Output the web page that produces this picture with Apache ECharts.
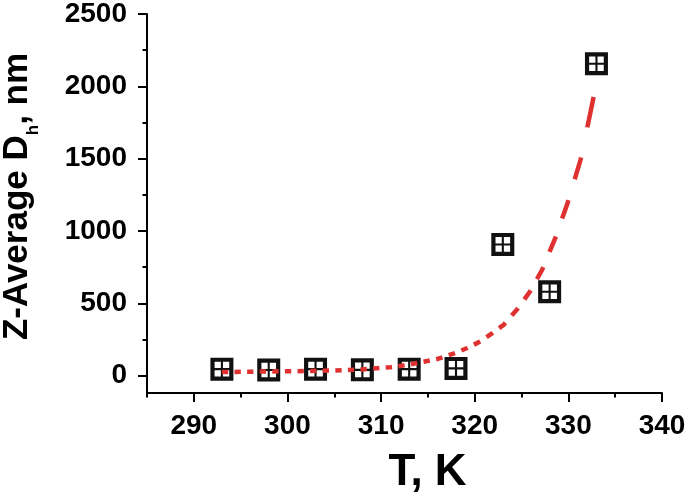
<!DOCTYPE html>
<html>
<head>
<meta charset="utf-8">
<script src="https://cdn.jsdelivr.net/npm/echarts@6/dist/echarts.min.js"></script>
<style>
  html, body { margin: 0; padding: 0; background: #fff; }
  #chart { width: 685px; height: 495px; }
</style>
</head>
<body>
<div id="chart"></div>
<script>
// measured points (T in K, Z-average Dh in nm)
const tempK = [293, 298, 303, 308, 313, 318, 323, 328, 333]
const sizeNm = [45, 39, 45, 40, 45, 50, 907, 580, 2156]

// fit curve
const fitT = [293, 297, 301, 305, 308, 311, 313, 316, 318, 319.2, 320.6, 321.8, 323.1, 324.5, 325.9, 327.2, 328.6, 329.9, 331.3, 332.3, 333]
const fitD = [25, 28, 31, 36, 43, 58, 76, 115, 158, 191, 237, 290, 352, 456, 582, 732, 951, 1190, 1492, 1802, 2022]

// tick labels
const xMajor = [290, 300, 310, 320, 330, 340]
const xMinor = [285, 295, 305, 315, 325, 335]
const yMajor = [0, 500, 1000, 1500, 2000, 2500]
const yMinor = [250, 750, 1250, 1750, 2250]

const FONT = 'Liberation Sans'
// black box with four white windows
const BOX = 'path://M0 0H22V22H0Z M4 4V10H10V4Z M12 4V10H18V4Z M4 12V18H10V12Z M12 12V18H18V12Z'

// the fit line is dashed in x: every other slice of the curve is drawn
function renderFit(params, api) {
  if (params.dataIndex !== 0) return
  const pts = fitT.map((t, i) => api.coord([t, fitD[i]]))
  const period = 12.6
  const dash = 6.3
  const yAt = x => {
    for (let i = 1; i < pts.length; i++) {
      if (x <= pts[i][0]) {
        const a = pts[i - 1]
        const b = pts[i]
        return a[1] + (b[1] - a[1]) * (x - a[0]) / (b[0] - a[0])
      }
    }
    return pts[pts.length - 1][1]
  }
  const x0 = pts[0][0]
  const xEnd = pts[pts.length - 1][0]
  const children = []
  for (let s = x0; s < xEnd; s += period) {
    const e = Math.min(s + dash, xEnd)
    const seg = [[s, yAt(s)]]
    pts.forEach(p => {
      if (p[0] > s && p[0] < e) seg.push(p)
    })
    seg.push([e, yAt(e)])
    children.push({
      type: 'polyline',
      shape: { points: seg },
      style: { stroke: '#e03131', lineWidth: 4.5, fill: null, lineCap: 'butt' }
    })
  }
  return { type: 'group', children }
}

const chart = echarts.init(document.getElementById('chart'))
chart.setOption({
  animation: false,
  grid: { left: 147, right: 23, top: 14, bottom: 102, outerBoundsMode: 'none' },
  xAxis: [{
    type: 'value',
    min: 285,
    max: 340,
    position: 'bottom',
    splitLine: { show: false },
    axisLine: { onZero: false, lineStyle: { color: '#000', width: 2 } },
    axisTick: { customValues: xMajor, length: 9, lineStyle: { color: '#000', width: 2 } },
    axisLabel: { customValues: xMajor, margin: 19, color: '#000', fontSize: 28, fontWeight: 'bold', fontFamily: FONT, formatter: v => String(v) },
    name: 'T, K',
    nameLocation: 'middle',
    nameGap: 58,
    nameTextStyle: { color: '#000', fontSize: 44, fontWeight: 'bold', fontFamily: FONT, padding: [0, 0, 0, 46] }
  }, {
    type: 'value',
    min: 285,
    max: 340,
    position: 'bottom',
    splitLine: { show: false },
    axisLine: { show: false, onZero: false },
    axisTick: { customValues: xMinor, length: 4.5, lineStyle: { color: '#000', width: 2 } },
    axisLabel: { show: false }
  }],
  yAxis: [{
    type: 'value',
    min: -120,
    max: 2500,
    position: 'left',
    splitLine: { show: false },
    axisLine: { show: true, onZero: false, lineStyle: { color: '#000', width: 2 } },
    axisTick: { show: true, customValues: yMajor, length: 9, lineStyle: { color: '#000', width: 2 } },
    axisLabel: { customValues: yMajor, margin: 20, color: '#000', fontSize: 28, fontWeight: 'bold', fontFamily: FONT, formatter: v => String(v) },
    name: '{t|Z-Average D}{s|h}{t|, nm}',
    nameLocation: 'middle',
    nameRotate: 90,
    nameGap: 105,
    nameTextStyle: {
      color: '#000',
      padding: [0, 0, 0, 14],
      rich: {
        t: { fontSize: 35, lineHeight: 42, verticalAlign: 'top', fontWeight: 'bold', fontFamily: FONT, color: '#000' },
        s: { fontSize: 17, lineHeight: 20, verticalAlign: 'bottom', fontWeight: 'bold', fontFamily: FONT, color: '#000' }
      }
    }
  }, {
    type: 'value',
    min: -120,
    max: 2500,
    position: 'left',
    splitLine: { show: false },
    axisLine: { show: false, onZero: false },
    axisTick: { show: true, customValues: yMinor, length: 4.5, lineStyle: { color: '#000', width: 2 } },
    axisLabel: { show: false }
  }],
  series: [{
    name: 'Dh',
    type: 'scatter',
    xAxisIndex: 0,
    yAxisIndex: 0,
    symbol: BOX,
    symbolSize: 23,
    itemStyle: { color: '#111', opacity: 1 },
    z: 2,
    data: tempK.map((t, i) => [t, sizeNm[i]])
  }, {
    name: 'fit',
    type: 'custom',
    xAxisIndex: 0,
    yAxisIndex: 0,
    renderItem: renderFit,
    silent: true,
    clip: false,
    z: 3,
    encode: { x: 0, y: 1 },
    data: [[fitT[0], fitD[0]]]
  }]
})
</script>
</body>
</html>
